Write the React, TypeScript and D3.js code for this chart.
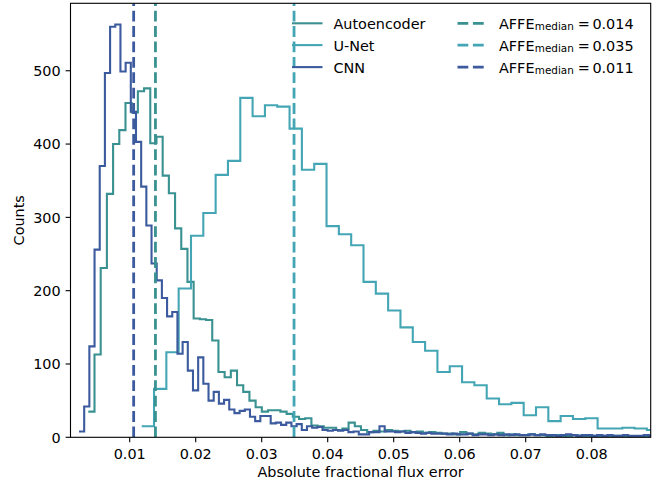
import React from "react";
import * as d3 from "d3";

// ---------- data ----------
const seriesNames = ["Autoencoder", "U-Net", "CNN"];
const seriesColors = ["#3a9191", "#44a6b4", "#3c5a9e"];

// histogram bin layout (left edge of first bin, bin width) in data units
const aeBinStart = 0.003727;
const aeBinWidth = 0.000939;
const unetBinStart = 0.011818;
const unetBinWidth = 0.001867;
const cnnBinStart = 0.002318;
const cnnBinWidth = 0.000785;

const aeCounts = [
  35, 113, 231, 332, 400, 419, 456, 443, 472, 476, 401, 410, 357, 333, 285, 257,
  212, 162, 161, 160, 132, 89, 82, 91, 71, 62, 50, 41, 35, 37, 37, 35, 32, 28,
  25, 26, 16, 15, 13, 13, 10, 12, 20, 15, 10, 7, 9, 8, 10, 9, 8, 9, 7, 8, 6, 7,
  6, 5, 5, 4, 7, 5, 4, 6, 5, 4, 6, 3, 4, 3, 3, 4, 3, 3, 2, 3, 2, 2, 3, 2, 2, 2,
  1, 2, 1, 2, 1, 1, 1, 1, 1,
];

const unetCounts = [
  15, 66, 116, 203, 275, 306, 358, 377, 463, 438, 453, 451, 421, 365, 373, 288,
  277, 262, 212, 196, 173, 150, 130, 118, 89, 97, 75, 71, 53, 45, 47, 30, 41,
  22, 29, 25, 26, 12, 12, 13, 12, 10, 9,
];

const cnnCounts = [
  8, 42, 124, 256, 370, 497, 560, 563, 499, 511, 444, 403, 342, 289, 237, 214,
  190, 165, 171, 114, 130, 91, 64, 109, 73, 50, 62, 46, 51, 38, 33, 36, 38, 28,
  22, 29, 29, 19, 20, 17, 20, 15, 18, 10, 15, 13, 14, 10, 9, 10, 9, 10, 7, 8, 4,
  4, 7, 7, 15, 8, 8, 7, 8, 6, 7, 6, 5, 6, 5, 5, 5, 4, 5, 4, 4, 5, 3, 4, 4, 3, 4,
  3, 4, 3, 4, 3, 3, 4, 3, 4, 3, 3, 2, 3, 4, 3, 2, 3, 3, 2, 3, 2, 3, 2, 2, 3, 2,
  2, 2, 3, 2,
];

const medians = [0.0139, 0.0349, 0.0106];
const medianLabels = ["0.014", "0.035", "0.011"];

const xTicks = [0.01, 0.02, 0.03, 0.04, 0.05, 0.06, 0.07, 0.08];
const yTicks = [0, 100, 200, 300, 400, 500];

const xDomain = [0.00103, 0.08894];
const yDomain = [0, 592];

// ---------- layout ----------
const W = 666;
const H = 483;
const M = { left: 70.5, right: 650.7, top: 3.3, bottom: 437.3 };
const FONT = "DejaVu Sans, sans-serif";
const FS = 14.4;
const SUB = 10.4;

export default function App() {
  const x = d3.scaleLinear().domain(xDomain).range([M.left, M.right]);
  const y = d3.scaleLinear().domain(yDomain).range([M.bottom, M.top]);

  const series = [
    { counts: aeCounts, start: aeBinStart, width: aeBinWidth },
    { counts: unetCounts, start: unetBinStart, width: unetBinWidth },
    { counts: cnnCounts, start: cnnBinStart, width: cnnBinWidth },
  ];

  const line = d3
    .line<[number, number]>()
    .x((d) => x(d[0]))
    .y((d) => y(d[1]))
    .curve(d3.curveStepAfter);

  const paths = series.map((s) => {
    const pts: [number, number][] = s.counts.map((c, i) => [s.start + i * s.width, c]);
    pts.push([s.start + s.counts.length * s.width, s.counts[s.counts.length - 1]]);
    return line(pts) as string;
  });

  const tickLen = 4.9;
  const dash = "10.8,4.6";
  const rowsY = [23.3, 45.1, 67.1];
  const lx = 499;

  return (
    <svg
      width={W}
      height={H}
      style={{ position: "absolute", left: 0, top: 0, background: "#fff" }}
      fontFamily={FONT}
    >
      <defs>
        <clipPath id="plotclip">
          <rect x={M.left} y={M.top} width={M.right - M.left} height={M.bottom - M.top} />
        </clipPath>
      </defs>
      <rect x={0} y={0} width={W} height={H} fill="#fff" />

      <g clipPath="url(#plotclip)">
        {paths.map((d, i) => (
          <path key={i} d={d} fill="none" stroke={seriesColors[i]} strokeWidth={2.1} strokeLinejoin="miter" />
        ))}
        {medians.map((m, i) => (
          <line
            key={"m" + i}
            x1={x(m)}
            x2={x(m)}
            y1={M.bottom}
            y2={M.top}
            stroke={seriesColors[i]}
            strokeWidth={2.8}
            strokeDasharray={dash}
          />
        ))}
      </g>

      {/* frame */}
      <rect
        x={M.left}
        y={M.top}
        width={M.right - M.left}
        height={M.bottom - M.top}
        fill="none"
        stroke="#000"
        strokeWidth={1.1}
      />

      {/* x ticks */}
      {xTicks.map((t) => (
        <g key={"xt" + t}>
          <line x1={x(t)} x2={x(t)} y1={M.bottom} y2={M.bottom + tickLen} stroke="#000" strokeWidth={1.1} />
          <text x={x(t)} y={459.2} fontSize={FS} textAnchor="middle" fill="#000">
            {d3.format(".2f")(t)}
          </text>
        </g>
      ))}
      {/* y ticks */}
      {yTicks.map((t) => (
        <g key={"yt" + t}>
          <line x1={M.left - tickLen} x2={M.left} y1={y(t)} y2={y(t)} stroke="#000" strokeWidth={1.1} />
          <text x={M.left - 9.8} y={y(t) + 5.2} fontSize={FS} textAnchor="end" fill="#000">
            {t}
          </text>
        </g>
      ))}

      <text x={(M.left + M.right) / 2} y={477.3} fontSize={FS} textAnchor="middle" fill="#000">
        Absolute fractional flux error
      </text>
      <text
        transform={`translate(23.5,${(M.top + M.bottom) / 2}) rotate(-90)`}
        fontSize={FS}
        textAnchor="middle"
        fill="#000"
      >
        Counts
      </text>

      {/* legend */}
      {seriesNames.map((n, i) => (
        <g key={"lg" + i}>
          <line x1={292} x2={322.5} y1={rowsY[i]} y2={rowsY[i]} stroke={seriesColors[i]} strokeWidth={2.1} />
          <text x={333.5} y={rowsY[i] + 5.5} fontSize={FS} fill="#000">
            {n}
          </text>
          <line
            x1={457.5}
            x2={485}
            y1={rowsY[i]}
            y2={rowsY[i]}
            stroke={seriesColors[i]}
            strokeWidth={2.8}
            strokeDasharray={dash}
          />
          <text x={lx} y={rowsY[i] + 5.5} fontSize={FS} fill="#000">
            AFFE
          </text>
          <text x={lx + 35.8} y={rowsY[i] + 7} fontSize={SUB} fill="#000">
            median
          </text>
          <text x={lx + 78.8} y={rowsY[i] + 5.5} fontSize={FS} fill="#000">
            =
          </text>
          <text x={lx + 93.4} y={rowsY[i] + 5.5} fontSize={FS} fill="#000">
            {medianLabels[i]}
          </text>
        </g>
      ))}
    </svg>
  );
}
